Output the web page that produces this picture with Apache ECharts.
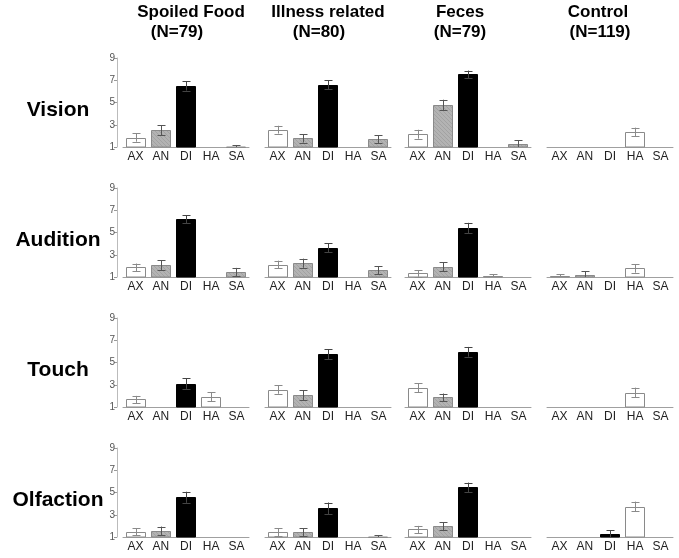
<!DOCTYPE html>
<html><head><meta charset="utf-8">
<script src="https://cdn.jsdelivr.net/npm/echarts@6/dist/echarts.min.js"></script>
<style>html,body{margin:0;padding:0;background:#fff}#c{width:679px;height:558px}</style>
</head><body><div id="c"></div>
<script>
const categories = ['AX', 'AN', 'DI', 'HA', 'SA'];
const conditions = ['Spoiled Food', 'Illness related', 'Feces', 'Control'];
const sampleSizes = ['(N=79)', '(N=80)', '(N=79)', '(N=119)'];
const modalities = ['Vision', 'Audition', 'Touch', 'Olfaction'];
const yTicks = [1, 3, 5, 7, 9];

// means per condition (Spoiled Food, Illness related, Feces, Control), categories AX AN DI HA SA
const visionMeans = [[1.85, 2.5, 6.5, 1, 1.03], [2.56, 1.77, 6.58, 1, 1.71], [2.15, 4.78, 7.52, 1, 1.24], [1, 1, 1, 2.35, 1]];
const visionErrors = [[0.37, 0.45, 0.43, 0, 0.15], [0.35, 0.37, 0.41, 0, 0.35], [0.4, 0.47, 0.35, 0, 0.35], [0, 0, 0, 0.39, 0]];
const auditionMeans = [[1.86, 2.06, 6.19, 1, 1.44], [2.12, 2.24, 3.63, 1, 1.62], [1.32, 1.91, 5.4, 1.05, 1], [1.05, 1.18, 1, 1.77, 1]];
const auditionErrors = [[0.35, 0.44, 0.38, 0, 0.38], [0.35, 0.41, 0.41, 0, 0.35], [0.3, 0.41, 0.47, 0.2, 0], [0.2, 0.35, 0, 0.38, 0]];
const touchMeans = [[1.68, 1, 3.1, 1.91, 1], [2.57, 2.06, 5.75, 1, 1], [2.74, 1.86, 5.96, 1, 1], [1, 1, 1, 2.3, 1]];
const touchErrors = [[0.32, 0, 0.47, 0.41, 0], [0.38, 0.44, 0.44, 0, 0], [0.41, 0.35, 0.44, 0, 0], [0, 0, 0, 0.44, 0]];
const olfactionMeans = [[1.47, 1.56, 4.57, 1, 1], [1.44, 1.44, 3.57, 1, 1.03], [1.68, 1.97, 5.45, 1, 1], [1, 1, 1.24, 3.74, 1]];
const olfactionErrors = [[0.33, 0.38, 0.5, 0, 0], [0.35, 0.35, 0.53, 0, 0.15], [0.32, 0.35, 0.44, 0, 0], [0, 0, 0.35, 0.44, 0]];

const allMeans = [visionMeans, auditionMeans, touchMeans, olfactionMeans];
const allErrors = [visionErrors, auditionErrors, touchErrors, olfactionErrors];

// hatch pattern for gray bars
function hatch() {
  const c = document.createElement('canvas');
  c.width = 4; c.height = 4;
  const g = c.getContext('2d');
  g.fillStyle = '#b3b3b3'; g.fillRect(0, 0, 4, 4);
  g.strokeStyle = '#a2a2a2'; g.lineWidth = 1;
  g.beginPath(); g.moveTo(0, 0); g.lineTo(4, 4); g.stroke();
  g.beginPath(); g.moveTo(-1, 3); g.lineTo(1, 5); g.stroke();
  g.beginPath(); g.moveTo(3, -1); g.lineTo(5, 1); g.stroke();
  return { image: c, repeat: 'repeat' };
}
const hatchFill = hatch();
const catStyles = [
  { fill: '#ffffff', stroke: '#8a8a8a', err: '#8a8a8a' },
  { fill: hatchFill, stroke: '#8a8a8a', err: '#555555' },
  { fill: '#000000', stroke: '#000000', err: '#444444' },
  { fill: '#ffffff', stroke: '#8a8a8a', err: '#8a8a8a' },
  { fill: hatchFill, stroke: '#8a8a8a', err: '#555555' }
];

const colLeft = [123, 265, 405, 547];
const gridW = 126;
const rowBase = [147, 277, 407, 537];
const gridH = 89;

function renderItem(params, api) {
  const ci = api.value(0), v = api.value(1), e = api.value(2);
  const st = catStyles[ci];
  const top = api.coord([ci, v]);
  const base = api.coord([ci, 1]);
  const bw = Math.round(api.size([1, 0])[0] * 0.8);
  const cx = Math.round(top[0]);
  const children = [];
  if (v > 1.001) {
    const x0 = cx - bw / 2 + 0.5;
    const y0 = Math.round(top[1]) + 0.5;
    children.push({
      type: 'rect',
      shape: { x: x0, y: y0, width: bw - 1, height: base[1] - y0 },
      style: { fill: st.fill, stroke: st.stroke, lineWidth: 1 }
    });
  }
  if (e > 0) {
    const hi = api.coord([ci, v + e])[1];
    const lo = api.coord([ci, Math.max(1, v - e)])[1];
    const capW = 4;
    const ls = { stroke: st.err, lineWidth: 1 };
    const xx = cx + 0.5;
    children.push({ type: 'line', shape: { x1: xx, y1: hi, x2: xx, y2: lo }, style: ls });
    children.push({ type: 'line', shape: { x1: xx - capW, y1: Math.round(hi) + 0.5, x2: xx + capW, y2: Math.round(hi) + 0.5 }, style: ls });
    if (v - e > 1) children.push({ type: 'line', shape: { x1: xx - capW, y1: Math.round(lo) + 0.5, x2: xx + capW, y2: Math.round(lo) + 0.5 }, style: ls });
  }
  return { type: 'group', children };
}

const grids = [], xAxes = [], yAxes = [], series = [];
for (let r = 0; r < 4; r++) {
  for (let c = 0; c < 4; c++) {
    const idx = r * 4 + c;
    grids.push({ left: colLeft[c], top: rowBase[r] - gridH, width: gridW, height: gridH });
    xAxes.push({
      type: 'category', gridIndex: idx, data: categories,
      axisLine: { show: true, lineStyle: { color: '#a0a0a0', width: 1 } },
      axisTick: { show: false },
      axisLabel: { fontSize: 12, color: '#222', margin: 4, fontFamily: 'Liberation Sans' }
    });
    yAxes.push({
      type: 'value', gridIndex: idx, min: yTicks[0], max: yTicks[yTicks.length - 1], interval: 2,
      show: c === 0, offset: 6,
      axisLine: { show: true, lineStyle: { color: '#bbbbbb' } },
      axisTick: { show: true, length: 3, lineStyle: { color: '#999' } },
      axisLabel: { fontSize: 10, color: '#555', margin: 2, fontFamily: 'Liberation Sans' },
      splitLine: { show: false }
    });
    const m = allMeans[r][c], e = allErrors[r][c];
    series.push({
      type: 'custom', xAxisIndex: idx, yAxisIndex: idx,
      renderItem: renderItem, clip: false,
      encode: { x: 0, y: 1 },
      data: categories.map((k, i) => [i, m[i], e[i]])
    });
  }
}

const headCenters1 = [191, 328, 460, 598];
const headCenters2 = [177, 319, 460, 600];
const rowLabelX = 58;
const graphics = [];
conditions.forEach((t, i) => {
  graphics.push({ type: 'text', x: headCenters1[i], y: 12, style: { text: t, font: 'bold 17px "Liberation Sans"', fill: '#000', textAlign: 'center', textVerticalAlign: 'middle', align: 'center', verticalAlign: 'middle' } });
  graphics.push({ type: 'text', x: headCenters2[i], y: 32, style: { text: sampleSizes[i], font: 'bold 17px "Liberation Sans"', fill: '#000', textAlign: 'center', textVerticalAlign: 'middle', align: 'center', verticalAlign: 'middle' } });
});
modalities.forEach((t, i) => {
  graphics.push({ type: 'text', x: rowLabelX, y: rowBase[i] - 37, style: { text: t, font: 'bold 21px "Liberation Sans"', fill: '#000', textAlign: 'center', textVerticalAlign: 'middle', align: 'center', verticalAlign: 'middle' } });
});

const chart = echarts.init(document.getElementById('c'), null, { renderer: 'canvas' });
chart.setOption({
  animation: false,
  backgroundColor: '#fff',
  grid: grids, xAxis: xAxes, yAxis: yAxes, series: series,
  graphic: graphics
});
</script></body></html>
